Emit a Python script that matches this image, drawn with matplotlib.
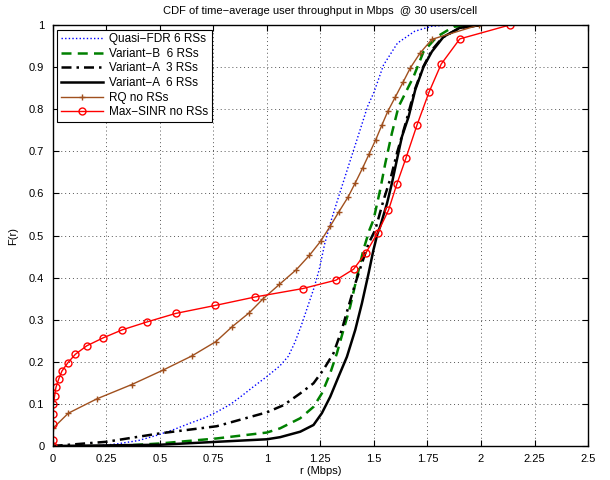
import matplotlib
matplotlib.use("Agg")
import matplotlib.pyplot as plt

plt.rcParams['font.family'] = ['Liberation Sans', 'DejaVu Sans']

# Quasi-FDR 6 RSs
qx = [0.2, 0.3, 0.4, 0.49, 0.57, 0.64, 0.71, 0.77, 0.83, 0.88, 0.93, 1.0, 1.06, 1.10, 1.13, 1.16,
      1.19, 1.22, 1.245, 1.27, 1.30, 1.34, 1.39, 1.44, 1.47, 1.50, 1.545, 1.61, 1.69, 1.77, 1.85]
qy = [0, 0.005, 0.013, 0.026, 0.040, 0.054, 0.067, 0.082, 0.099, 0.118, 0.138, 0.165, 0.19, 0.213, 0.245, 0.285,
      0.33, 0.375, 0.42, 0.48, 0.535, 0.60, 0.679, 0.758, 0.806, 0.84, 0.905, 0.957, 0.985, 0.997, 1.0]

# Variant-B 6 RSs
bx = [0.3, 0.5, 0.766, 1.0, 1.062, 1.156, 1.218, 1.257, 1.296, 1.327, 1.358, 1.389, 1.421, 1.451, 1.479,
      1.498, 1.529, 1.553, 1.584, 1.615, 1.685, 1.732, 1.794, 1.872, 2.0]
by = [0, 0.006, 0.018, 0.032, 0.042, 0.066, 0.093, 0.125, 0.173, 0.22, 0.276, 0.331, 0.402, 0.466, 0.513,
      0.537, 0.608, 0.671, 0.743, 0.806, 0.877, 0.937, 0.972, 0.996, 1.0]

# Variant-A 3 RSs
a3x = [0, 0.25, 0.5, 0.766, 1.0, 1.078, 1.156, 1.218, 1.264, 1.311, 1.350, 1.381, 1.413, 1.444, 1.475,
       1.506, 1.545, 1.58, 1.61, 1.65, 1.69, 1.73, 1.77, 1.82, 1.9, 2.0]
a3y = [0, 0.010, 0.030, 0.047, 0.080, 0.097, 0.125, 0.149, 0.181, 0.22, 0.276, 0.331, 0.386, 0.434, 0.481,
       0.513, 0.584, 0.64, 0.70, 0.77, 0.845, 0.90, 0.94, 0.97, 0.993, 1.0]

# Variant-A 6 RSs
a6x = [0, 0.5, 0.766, 1.0, 1.062, 1.156, 1.218, 1.257, 1.296, 1.335, 1.374, 1.413, 1.444, 1.475, 1.498,
       1.517, 1.529, 1.561, 1.584, 1.607, 1.631, 1.662, 1.693, 1.732, 1.771, 1.825, 1.90, 2.0]
a6y = [0, 0.003, 0.010, 0.016, 0.021, 0.034, 0.050, 0.078, 0.117, 0.165, 0.212, 0.276, 0.339, 0.41, 0.466,
       0.505, 0.521, 0.576, 0.624, 0.679, 0.735, 0.782, 0.846, 0.901, 0.937, 0.972, 0.993, 1.0]

# RQ no RSs
rqx = [0, 0.003, 0.073, 0.206, 0.369, 0.514, 0.650, 0.762, 0.837, 0.919, 0.983, 1.059, 1.138, 1.199, 1.252,
       1.297, 1.336, 1.379, 1.413, 1.447, 1.478, 1.509, 1.537, 1.565, 1.600, 1.636, 1.670, 1.715, 1.771, 1.990]
rqy = [0, 0.043, 0.078, 0.112, 0.146, 0.180, 0.214, 0.248, 0.283, 0.317, 0.350, 0.384, 0.419, 0.453, 0.487,
       0.523, 0.556, 0.591, 0.625, 0.660, 0.694, 0.728, 0.762, 0.795, 0.829, 0.864, 0.898, 0.933, 0.966, 1.0]

# Max-SINR no RSs
msx = [0, 0, 0, 0, 0.003, 0.009, 0.015, 0.028, 0.043, 0.071, 0.106, 0.159, 0.236, 0.325, 0.442, 0.575,
       0.760, 0.945, 1.168, 1.323, 1.405, 1.463, 1.518, 1.568, 1.607, 1.649, 1.701, 1.757, 1.814, 1.901, 2.134]
msy = [0, 0.015, 0.052, 0.076, 0.099, 0.119, 0.139, 0.159, 0.178, 0.198, 0.218, 0.238, 0.257, 0.276, 0.295, 0.315,
       0.334, 0.354, 0.374, 0.394, 0.420, 0.459, 0.507, 0.560, 0.622, 0.683, 0.762, 0.840, 0.907, 0.967, 1.0]

xticks = [0, 0.25, 0.5, 0.75, 1, 1.25, 1.5, 1.75, 2, 2.25, 2.5]
xticklabels = ['0', '0.25', '0.5', '0.75', '1', '1.25', '1.5', '1.75', '2', '2.25', '2.5']
yticks = [0, 0.1, 0.2, 0.3, 0.4, 0.5, 0.6, 0.7, 0.8, 0.9, 1]
yticklabels = ['0', '0.1', '0.2', '0.3', '0.4', '0.5', '0.6', '0.7', '0.8', '0.9', '1']

fig = plt.figure(figsize=(6.1, 4.8), dpi=100)
ax = fig.add_axes([0.0864, 0.0708, 0.8776, 0.8771])

ax.plot(qx, qy, color='#0000ff', linestyle=(0, (1, 1.6)), lw=1.0, label='Quasi\u2212FDR 6 RSs')
ax.plot(bx, by, color='#008000', linestyle=(0, (4, 2.5)), lw=1.8, label='Variant\u2212B  6 RSs')
ax.plot(a3x, a3y, color='black', linestyle=(0, (4, 2, 1, 2)), lw=1.8, label='Variant\u2212A  3 RSs')
ax.plot(a6x, a6y, color='black', linestyle='-', lw=1.8, label='Variant\u2212A  6 RSs')
ax.plot(rqx, rqy, color='#a0501e', linestyle='-', lw=1.0, marker='+', markersize=5, mew=1.0,
        label='RQ no RSs')
ax.plot(msx, msy, color='#ff0000', linestyle='-', lw=1.0, marker='o', markersize=5, mfc='none', mew=1.0,
        label='Max\u2212SINR no RSs')

ax.set_xlim(0, 2.5)
ax.set_ylim(0, 1)
ax.set_xticks(xticks)
ax.set_xticklabels(xticklabels)
ax.set_yticks(yticks)
ax.set_yticklabels(yticklabels)
ax.tick_params(direction='in', top=True, right=True, labelsize=8, length=4, width=0.8)
ax.tick_params(axis='x', pad=6)
ax.tick_params(axis='y', pad=6)
ax.grid(True, linestyle=(0, (1, 3)), color='#555555', lw=0.7)
for s in ax.spines.values():
    s.set_linewidth(1.0)

ax.set_xlabel('r (Mbps)', fontsize=8, labelpad=1)
ax.set_ylabel('F(r)', fontsize=8, labelpad=8)
ax.set_title('CDF of time\u2212average user throughput in Mbps  @ 30 users/cell', fontsize=8, pad=8)

leg = ax.legend(loc='upper left', fontsize=8.5, frameon=True, fancybox=False, edgecolor='black',
                borderpad=0.3, labelspacing=0.22, handlelength=3.6, handletextpad=0.5,
                borderaxespad=0.4, framealpha=1)
leg.get_frame().set_linewidth(0.8)

fig.savefig('out.png', dpi=100)
